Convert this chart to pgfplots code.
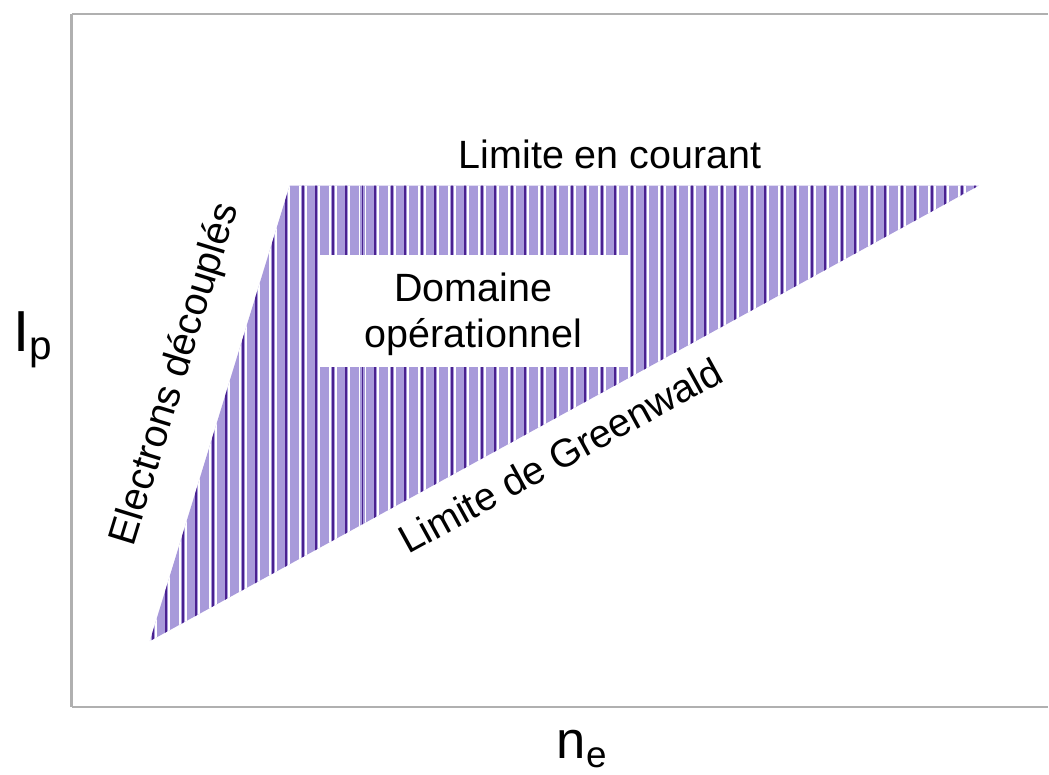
\documentclass[border=0pt]{standalone}
\usepackage{fontspec}
\setmainfont{Liberation Sans}
\usepackage{pgfplots}
\pgfplotsset{compat=1.18}

\definecolor{lilas}{RGB}{168,154,218}
\definecolor{violet}{RGB}{74,33,144}
\definecolor{cadre}{RGB}{176,176,176}

\pgfplotsset{
    blanc/.style={ycomb, draw=white, line width=0.75pt, mark=none},
    fonce/.style={ycomb, draw=violet, line width=0.75pt, mark=none},
}

\begin{document}
\begin{tikzpicture}
\begin{axis}[
    scale only axis,
    width=13.039cm,
    height=9.262cm,
    xmin=72, xmax=1049,
    ymin=68, ymax=762,
    axis x line=box,
    axis y line=left,
    axis line style={-, draw=cadre, line width=1.1pt},
    ticks=none,
    clip=false,
]
    % domaine operationnel
    \addplot[draw=none, fill=lilas] coordinates {(150,134) (290,590) (980,590) (150,134)} -- cycle;
    \begin{scope}
    \clip (axis cs:150,134) -- (axis cs:290,590) -- (axis cs:980,590) -- cycle;
    \addplot[blanc] coordinates {
        (150,600) (180,600) (210,600) (240,600) (270,600) (300,600) (330,600) (360,600) (390,600) (420,600)
        (450,600) (480,600) (510,600) (540,600) (570,600) (600,600) (630,600) (660,600) (690,600) (720,600)
        (750,600) (780,600) (810,600) (840,600) (870,600) (900,600) (930,600) (960,600)};
    \addplot[blanc] coordinates {
        (156,600) (186,600) (216,600) (246,600) (276,600) (306,600) (336,600) (366,600) (396,600) (426,600)
        (456,600) (486,600) (516,600) (546,600) (576,600) (606,600) (636,600) (666,600) (696,600) (726,600)
        (756,600) (786,600) (816,600) (846,600) (876,600) (906,600) (936,600) (966,600)};
    \addplot[blanc] coordinates {
        (169,600) (199,600) (229,600) (259,600) (289,600) (319,600) (349,600) (379,600) (409,600) (439,600)
        (469,600) (499,600) (529,600) (559,600) (589,600) (619,600) (649,600) (679,600) (709,600) (739,600)
        (769,600) (799,600) (829,600) (859,600) (889,600) (919,600) (949,600) (979,600)};
    \addplot[fonce] coordinates {
        (153,600) (183,600) (213,600) (243,600) (273,600) (303,600) (333,600) (363,600) (393,600) (423,600)
        (453,600) (483,600) (513,600) (543,600) (573,600) (603,600) (633,600) (663,600) (693,600) (723,600)
        (753,600) (783,600) (813,600) (843,600) (873,600) (903,600) (933,600) (963,600)};
    \addplot[fonce] coordinates {
        (166,600) (196,600) (226,600) (256,600) (286,600) (316,600) (346,600) (376,600) (406,600) (436,600)
        (466,600) (496,600) (526,600) (556,600) (586,600) (616,600) (646,600) (676,600) (706,600) (736,600)
        (766,600) (796,600) (826,600) (856,600) (886,600) (916,600) (946,600) (976,600)};
    \end{scope}
    \addplot[draw=none, fill=white] coordinates {(318,408) (630,408) (630,521) (318,521)} -- cycle;

    \node[font=\fontsize{15}{17.5}\selectfont, align=center] at (axis cs:474,461) {Domaine\\op\'erationnel};
    \node[font=\fontsize{15}{18}\selectfont] at (axis cs:611,621) {Limite en courant};
    \node[font=\fontsize{15}{18}\selectfont, rotate=72.9] at (axis cs:176,401) {Electrons d\'ecoupl\'es};
    \node[font=\fontsize{15}{18}\selectfont, rotate=28.8] at (axis cs:561,320) {Limite de Greenwald};

    \node[font=\fontsize{22}{26}\selectfont, anchor=base west, inner sep=0pt] at (axis cs:13,424) {I\textsubscript{p}};
    \node[font=\fontsize{20}{24}\selectfont, anchor=base west, inner sep=0pt] at (axis cs:557,16) {n\textsubscript{e}};

    \path (axis cs:0,0) rectangle (axis cs:1049,776);
\end{axis}
\end{tikzpicture}
\end{document}
